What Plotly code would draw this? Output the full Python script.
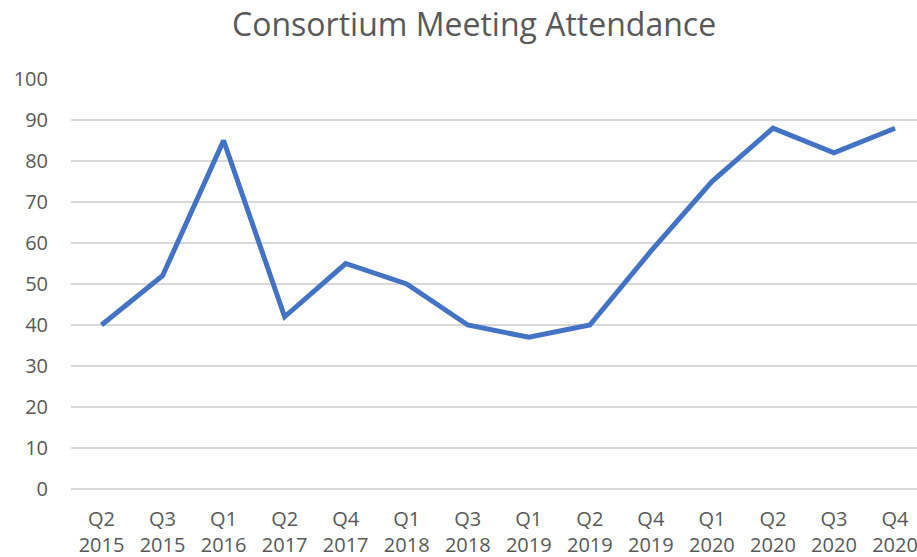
import plotly.graph_objects as go

quarters = ["Q2<br>2015", "Q3<br>2015", "Q1<br>2016", "Q2<br>2017", "Q4<br>2017", "Q1<br>2018",
            "Q3<br>2018", "Q1<br>2019", "Q2<br>2019", "Q4<br>2019", "Q1<br>2020", "Q2<br>2020",
            "Q3<br>2020", "Q4<br>2020"]
attendance = [40, 52, 85, 42, 55, 50, 40, 37, 40, 58, 75, 88, 82, 88]

font_family = "Open Sans, Noto Sans, sans-serif"
text_color = "#595959"
grid_color = "#d9d9d9"

fig = go.Figure()
fig.add_trace(go.Scatter(
    x=quarters,
    y=attendance,
    mode="lines",
    line=dict(color="#4472c4", width=5),
))

fig.update_layout(
    title=dict(text="Consortium Meeting Attendance", x=0.517, xanchor="center", y=0.955, yanchor="middle",
               font=dict(family=font_family, size=32, color=text_color)),
    width=917,
    height=557,
    margin=dict(l=70.5, r=0, t=79, b=68),
    plot_bgcolor="white",
    paper_bgcolor="white",
    showlegend=False,
    xaxis=dict(
        type="category",
        range=[-0.5, 13.36],
        showgrid=False,
        showline=False,
        ticks="",
        tickangle=0,
        ticklabelstandoff=16,
        tickfont=dict(family=font_family, size=20, color=text_color),
    ),
    yaxis=dict(
        range=[0, 100],
        dtick=10,
        showgrid=True,
        gridcolor=grid_color,
        gridwidth=1.5,
        zeroline=True,
        zerolinecolor=grid_color,
        zerolinewidth=1.5,
        showline=False,
        ticks="",
        ticklabelstandoff=22,
        tickfont=dict(family=font_family, size=20, color=text_color),
    ),
)

# the page body has a default 8px margin; drop it so the chart sits at the window corner
fig.write_html("out.html", config={"displayModeBar": False},
               post_script="document.body.style.margin='0';")
